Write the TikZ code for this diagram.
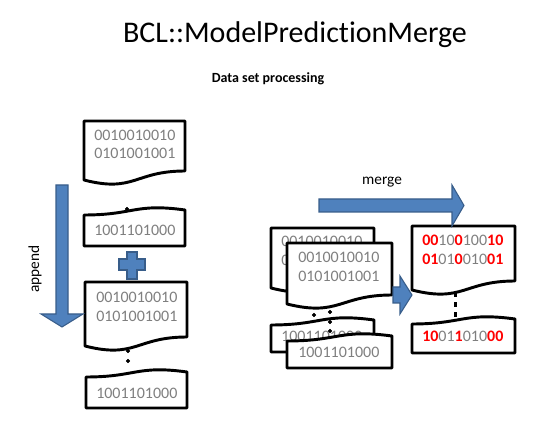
\documentclass[tikz,border=0pt]{standalone}
\usepackage{fontspec}
\setmainfont{Carlito}[Ligatures=NoCommon]
\usetikzlibrary{positioning}
\definecolor{arrowblue}{HTML}{4F81BD}
\definecolor{arrowedge}{HTML}{385D8A}
\definecolor{bitgray}{HTML}{7F7F7F}
\definecolor{bitred}{HTML}{FF0000}
\tikzset{
  page/.style={draw=black, line width=2.2pt, fill=white, line join=round},
  bits/.style={text=bitgray, font=\fontsize{12}{14}\selectfont, anchor=base west, inner sep=0pt},
  blockarrow/.style={fill=arrowblue, draw=arrowedge, line width=0.8pt, line join=miter},
}
\begin{document}
\begin{tikzpicture}[x=0.75pt, y=-0.75pt]
            \useasboundingbox (0,0) rectangle (539,434);
            % page with a wavy lower edge: x1, x2, top, lower right corner
            \def\docpage#1#2#3#4{
                \draw[page] (#1,#3) -- (#2,#3) -- (#2,#4)
                    .. controls ({(#1+#2)/2},#4) and ({(#1+#2)/2},#4+22) .. (#1,#4+9) -- cycle;
            }
            % end piece with a wavy upper edge: x1, x2, upper left corner, bottom
            \def\docend#1#2#3#4{
                \draw[page] (#1,#3)
                    .. controls ({(#1+#2)/2},#3) and ({(#1+#2)/2},#3-12) .. (#2,#3-5)
                    -- (#2,#4) -- (#1,#4) -- cycle;
            }
            \def\hot#1{\textcolor{bitred}{\bfseries #1}}

            \node[anchor=base] (title) at (295, 43) {\fontsize{22.5}{27}\selectfont BCL::ModelPredictionMerge};
            \node[anchor=base] (subtitle) at (268, 83) {\fontsize{10.5}{12}\selectfont\bfseries Data set processing};

            % left column: append
            \def\xa{94};
            \def\xb{96};
            \docpage{84}{185}{121}{171}
            \docend{84}{185}{215}{246}
            \docpage{85}{187}{282}{337}
            \docend{86}{187}{377}{408}
            \node[bits] (a1) at (\xa, 141) {0010010010};
            \node[bits] (a2) at (\xa, 159) {0101001001};
            \node[bits] (a3) at (\xa, 236) {1001101000};
            \node[bits] (b1) at (\xb, 303) {0010010010};
            \node[bits] (b2) at (\xb, 322) {0101001001};
            \node[bits] (b3) at (\xb, 399) {1001101000};
            \filldraw[black] (127, 209) circle (1.8);
            \filldraw[black] (128, 351) circle (1.8);
            \filldraw[black] (128, 361) circle (1.8);

            \draw[blockarrow] (122,259) -- (127,259) -- (127,252) -- (137,252) -- (137,259)
                -- (145,259) -- (145,270) -- (137,270) -- (137,279) -- (127,279)
                -- (127,270) -- (119,270) -- (119,259) -- cycle;
            \draw[blockarrow] (56,185) -- (68,185) -- (68,314) -- (83,314) -- (62,327)
                -- (41,314) -- (56,314) -- cycle;
            \node[rotate=90, font=\fontsize{11.5}{13}\selectfont] (append) at (35, 269) {append};

            % right side: merge
            \def\xc{281};
            \def\xd{298};
            \def\xe{422};
            \docpage{271}{374}{228}{279}
            \node[bits] (c1) at (\xc, 247) {0010010010};
            \node[bits] (c2) at (\xc, 266) {0101001001};
            \docend{271}{374}{325}{352}
            \node[bits] (c3) at (\xc, 342) {1001101000};
            \filldraw[black] (314, 315) circle (1.8);
            \filldraw[black] (330, 312) circle (1.8);
            \filldraw[black] (330, 322) circle (1.8);
            \filldraw[black] (330, 331) circle (1.8);
            \docpage{287}{392}{243}{295}
            \node[bits] (d1) at (\xd, 263) {0010010010};
            \node[bits] (d2) at (\xd, 282) {0101001001};
            \docend{287}{392}{341}{368}
            \node[bits] (d3) at (\xd, 358) {1001101000};

            \docpage{412}{515}{226}{281}
            \docend{412}{515}{324}{353}
            \node[bits] (e1) at (\xe, 246) {\hot{00}10\hot{0}100\hot{10}};
            \node[bits] (e2) at (\xe, 265) {\hot{01}01\hot{0}010\hot{01}};
            \node[bits] (e3) at (\xe, 342) {\hot{10}01\hot{1}010\hot{00}};
            \foreach \y in {295, 305, 315}
                \fill[black] (453.5, \y-2.5) rectangle (456.5, \y+2.5);

            \draw[blockarrow] (393,287) -- (400,287) -- (400,276) -- (412,295) -- (400,314)
                -- (400,303) -- (393,303) -- cycle;
            \draw[blockarrow] (319,199) -- (452,199) -- (452,185) -- (464,205.5) -- (452,226)
                -- (452,212) -- (319,212) -- cycle;
            \node[anchor=base, font=\fontsize{11.5}{13}\selectfont] (merge) at (382, 185) {merge};
\end{tikzpicture}
\end{document}
